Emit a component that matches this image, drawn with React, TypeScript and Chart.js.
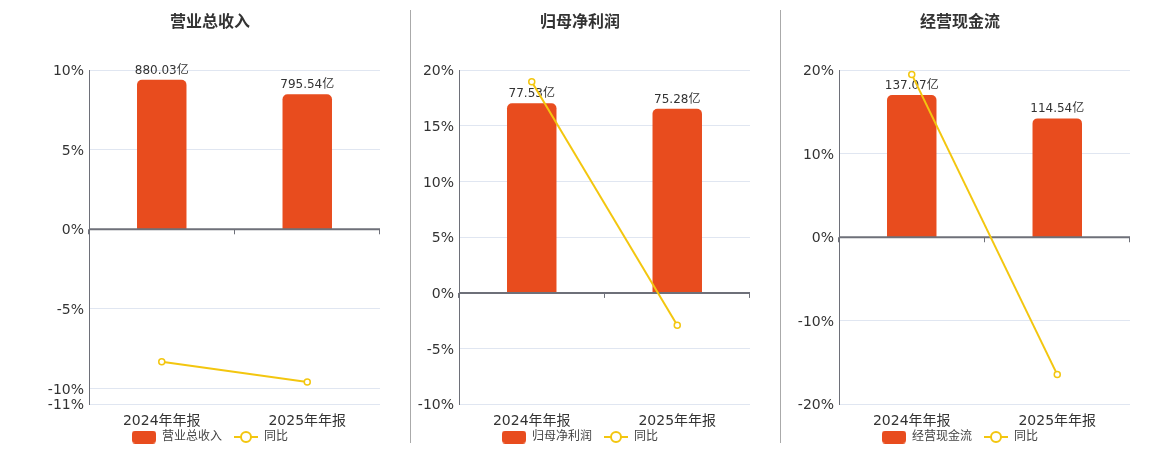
import React, { useEffect, useRef } from "react";
import { Chart, registerables } from "chart.js";

Chart.register(...registerables);

const categories = ["2024年年报", "2025年年报"];
const titles = ["营业总收入", "归母净利润", "经营现金流"];
const revenueValues = [880.03, 795.54];
const revenueYoY = [-8.33, -9.6];
const profitValues = [77.53, 75.28];
const profitYoY = [18.97, -2.9];
const cashValues = [137.07, 114.54];
const cashYoY = [19.5, -16.44];
const revenueTicks = [-11, -10, -5, 0, 5, 10];
const profitTicks = [-10, -5, 0, 5, 10, 15, 20];
const cashTicks = [-20, -10, 0, 10, 20];
const barAxisMax = [937, 91, 161];
const yoyLabel = "同比";
const unit = "亿";

const FONT = "'DejaVu Sans', 'Noto Sans CJK SC', sans-serif";
const BAR_COLOR = "#E84C1E";
const LINE_COLOR = "#F3C60F";
const AXIS_COLOR = "#6E7079";
const GRID_COLOR = "#E0E6F1";
const LEGEND_SHIFT = 11.3;

Chart.defaults.font.family = FONT;

function makeBoxIcon(): HTMLCanvasElement {
  const c = document.createElement("canvas");
  c.width = 24;
  c.height = 13;
  const g = c.getContext("2d")!;
  g.fillStyle = BAR_COLOR;
  g.beginPath();
  (g as any).roundRect(0, 0, 24, 13, 3.5);
  g.fill();
  return c;
}

function makeLineIcon(): HTMLCanvasElement {
  const c = document.createElement("canvas");
  c.width = 24;
  c.height = 14;
  const g = c.getContext("2d")!;
  g.strokeStyle = LINE_COLOR;
  g.lineWidth = 2;
  g.beginPath();
  g.moveTo(0, 7);
  g.lineTo(24, 7);
  g.stroke();
  g.beginPath();
  g.arc(12, 7, 5, 0, Math.PI * 2);
  g.fillStyle = "#fff";
  g.fill();
  g.stroke();
  return c;
}

const overlayPlugin = {
  id: "overlay",
  afterLayout(chart: any) {
    const lg = chart.legend;
    if (lg) {
      lg.top -= LEGEND_SHIFT;
      lg.bottom -= LEGEND_SHIFT;
    }
  },
  afterDatasetDraw(chart: any, args: any) {
    if (args.index !== 0) return;
    const { ctx, chartArea, scales } = chart;
    const y0 = scales.y.getPixelForValue(0);
    ctx.save();
    const meta = chart.getDatasetMeta(0);
    ctx.font = `12px ${FONT}`;
    ctx.fillStyle = "#333";
    ctx.textAlign = "center";
    ctx.textBaseline = "alphabetic";
    meta.data.forEach((el: any, i: number) => {
      const v = chart.data.datasets[0].data[i] as number;
      ctx.fillText(v.toFixed(2) + unit, el.x, el.y - 6);
    });
    ctx.strokeStyle = AXIS_COLOR;
    ctx.lineWidth = 2;
    ctx.beginPath();
    ctx.moveTo(chartArea.left, y0);
    ctx.lineTo(chartArea.right, y0);
    ctx.stroke();
    const n = chart.data.labels.length;
    const w = (chartArea.right - chartArea.left) / n;
    ctx.lineWidth = 1;
    ctx.beginPath();
    for (let i = 0; i <= n; i++) {
      const x = Math.round(chartArea.left + i * w) - 0.5;
      ctx.moveTo(x, y0);
      ctx.lineTo(x, y0 + 5);
    }
    ctx.stroke();
    ctx.restore();
  },
};

type PanelProps = {
  title: string;
  values: number[];
  yoy: number[];
  ticks: number[];
  barMax: number;
  left: number;
};

function Panel({ title, values, yoy, ticks, barMax, left }: PanelProps) {
  const ref = useRef<HTMLCanvasElement>(null);
  useEffect(() => {
    if (!ref.current) return;
    const boxIcon = makeBoxIcon();
    const lineIcon = makeLineIcon();
    const tMin = ticks[0];
    const tMax = ticks[ticks.length - 1];
    const chart = new Chart(ref.current, {
      type: "bar",
      data: {
        labels: categories,
        datasets: [
          {
            type: "bar",
            label: title,
            data: values,
            yAxisID: "y1",
            backgroundColor: BAR_COLOR,
            borderRadius: 5,
            barPercentage: 0.34,
            categoryPercentage: 1,
            order: 2,
          },
          {
            type: "line",
            label: yoyLabel,
            data: yoy,
            yAxisID: "y",
            borderColor: LINE_COLOR,
            borderWidth: 2,
            pointRadius: 3,
            pointBorderWidth: 1.5,
            pointBackgroundColor: "#fff",
            pointBorderColor: LINE_COLOR,
            tension: 0,
            order: 1,
          } as any,
        ],
      },
      options: {
        responsive: false,
        animation: false,
        events: [],
        layout: { autoPadding: false, padding: { left: 0, right: 0, top: 0, bottom: -14.3 } },
        plugins: {
          tooltip: { enabled: false },
          title: {
            display: true,
            text: title,
            color: "#333",
            font: { size: 16, weight: "bold", family: FONT },
            padding: { top: 13, bottom: 38 },
          },
          legend: {
            display: true,
            position: "bottom",
            labels: {
              usePointStyle: true,
              pointStyleWidth: 24,
              boxHeight: 12,
              padding: 12,
              color: "#444",
              font: { size: 12, family: FONT },
              generateLabels: () => [
                {
                  text: title,
                  pointStyle: boxIcon,
                  fillStyle: BAR_COLOR,
                  strokeStyle: BAR_COLOR,
                  lineWidth: 0,
                  hidden: false,
                  datasetIndex: 0,
                  fontColor: "#444",
                } as any,
                {
                  text: yoyLabel,
                  pointStyle: lineIcon,
                  fillStyle: "#fff",
                  strokeStyle: LINE_COLOR,
                  lineWidth: 0,
                  hidden: false,
                  datasetIndex: 1,
                  fontColor: "#444",
                } as any,
              ],
            },
          },
        },
        scales: {
          x: {
            offset: true,
            grid: { display: false, drawTicks: false },
            border: { display: false },
            ticks: { color: "#333", font: { size: 14, family: FONT }, padding: 9 },
            afterFit: (s: any) => {
              s.height = 26;
              s.paddingLeft = 0;
              s.paddingRight = 0;
            },
          },
          y: {
            position: "left",
            min: tMin,
            max: tMax,
            afterBuildTicks: (s: any) => {
              s.ticks = ticks.map((v) => ({ value: v }));
            },
            afterFit: (s: any) => {
              s.width = 49;
            },
            ticks: {
              color: "#333",
              font: { size: 14, family: FONT },
              padding: 5,
              labelOffset: 1.5,
              callback: (v: any) => `${v}%`,
            },
            grid: {
              drawTicks: false,
              color: (c: any) => (c.tick && c.tick.value === 0 ? "rgba(0,0,0,0)" : GRID_COLOR),
            },
            border: { display: true, color: AXIS_COLOR, width: 1 },
          },
          y1: {
            display: false,
            min: (barMax * tMin) / tMax,
            max: barMax,
          },
        },
      },
      plugins: [overlayPlugin],
    });
    return () => chart.destroy();
  }, [title, values, yoy, ticks, barMax]);
  return (
    <canvas
      ref={ref}
      width={340}
      height={450}
      style={{ position: "absolute", left, top: 0, width: 340, height: 450 }}
    />
  );
}

export default function App() {
  return (
    <div
      style={{
        position: "absolute",
        left: 0,
        top: 0,
        width: 1160,
        height: 450,
        background: "#fff",
        overflow: "hidden",
      }}
    >
      <Panel title={titles[0]} values={revenueValues} yoy={revenueYoY} ticks={revenueTicks} barMax={barAxisMax[0]} left={40} />
      <Panel title={titles[1]} values={profitValues} yoy={profitYoY} ticks={profitTicks} barMax={barAxisMax[1]} left={410} />
      <Panel title={titles[2]} values={cashValues} yoy={cashYoY} ticks={cashTicks} barMax={barAxisMax[2]} left={790} />
      <div style={{ position: "absolute", left: 410, top: 10, width: 1, height: 433, background: "#aaa" }} />
      <div style={{ position: "absolute", left: 780, top: 10, width: 1, height: 433, background: "#aaa" }} />
    </div>
  );
}
